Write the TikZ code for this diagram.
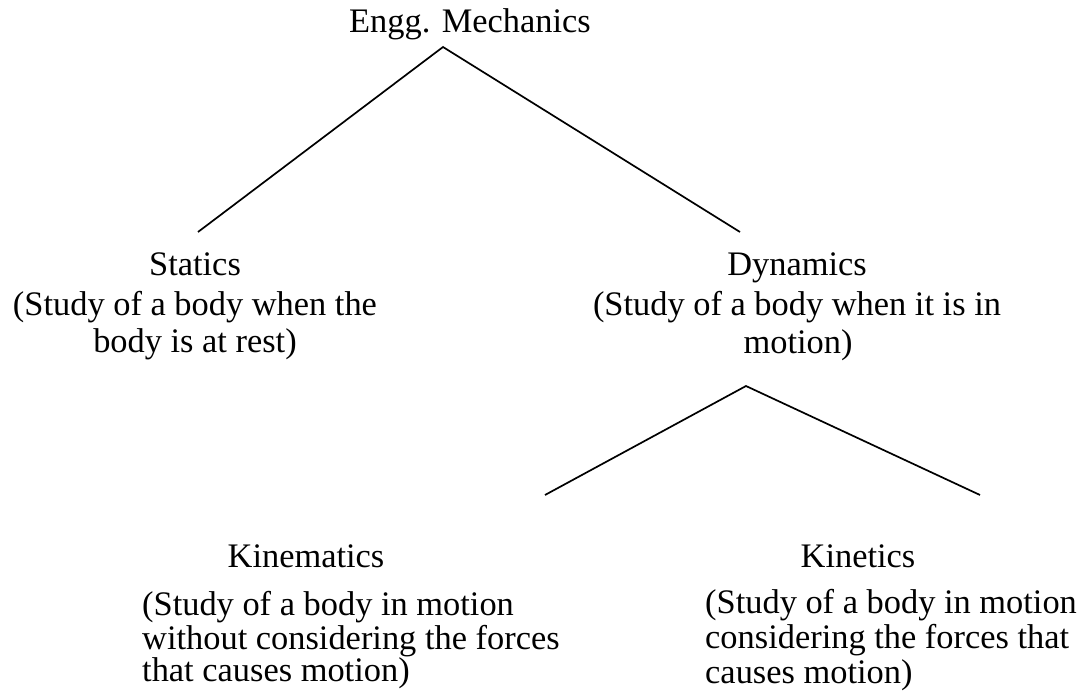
\documentclass[tikz,border=0pt]{standalone}
\usepackage{fontspec}
\setmainfont{Liberation Serif}
\begin{document}
\begin{tikzpicture}[x=1pt,y=-1pt,
  txt/.style={inner sep=0pt, anchor=base, font=\fontsize{34.4}{40}\selectfont},
  txtl/.style={txt, anchor=base west},
  link/.style={line width=1.7pt, line join=miter}]
\useasboundingbox (0,0) rectangle (1088,693);
% root
\node[txt] (root) at (470,33) {Engg. Mechanics};
% statics
\node[txt] (stat) at (195,275) {Statics};
\node[txt] (stat2) at (195,315) {(Study of a body when the};
\node[txt] (stat3) at (195,352) {body is at rest)};
% dynamics
\node[txt] (dyn) at (797,275) {Dynamics};
\node[txt] (dyn2) at (797,315) {(Study of a body when it is in};
\node[txt] (dyn3) at (798,353) {motion)};
% kinematics
\node[txt] (kinem) at (306,567) {Kinematics};
\node[txtl] (kinem2) at (142,615) {(Study of a body in motion};
\node[txtl] (kinem3) at (142,649) {without considering the forces};
\node[txtl] (kinem4) at (142,681) {that causes motion)};
% kinetics
\node[txt] (kinet) at (858,567) {Kinetics};
\node[txtl] (kinet2) at (705,613) {(Study of a body in motion};
\node[txtl] (kinet3) at (705,648) {considering the forces that};
\node[txtl] (kinet4) at (705,683) {causes motion)};
% connectors
\coordinate (rootTip) at (443,47);
\coordinate (statTop) at (198,232);
\coordinate (dynTop) at (740,232);
\draw[link] (statTop) -- (rootTip) -- (dynTop);
\coordinate (dynTip) at (746,386);
\coordinate (kinemTop) at (545,495);
\coordinate (kinetTop) at (980,495);
\draw[link] (kinemTop) -- (dynTip) -- (kinetTop);
\end{tikzpicture}
\end{document}
